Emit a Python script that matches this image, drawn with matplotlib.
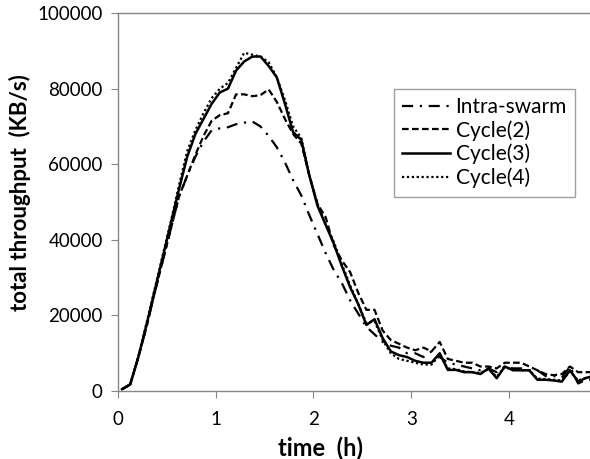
import numpy as np
import matplotlib.pyplot as plt

# time samples, every 5 minutes (h)
time_h = [(i + 0.5) / 12 for i in range(59)]

intra_swarm = [500, 1700, 9000, 17000, 26000, 34500, 43000, 51500, 57000, 62000,
               66000, 69000, 69500, 69800, 70600, 71000, 71300, 70000, 67500, 64500,
               60500, 55800, 51800, 46500, 41500, 36500, 32000, 28500, 24000, 20500,
               17000, 15000, 13000, 12000, 11500, 10000, 10000, 9000, 10500, 9000,
               7500, 7000, 6500, 6000, 5500, 6000, 5000, 6500, 6000, 6000,
               5500, 5500, 4000, 4000, 3500, 6500, 2000, 3000, 3000]
cycle2 = [500, 1700, 9000, 17000, 26000, 34500, 43000, 51500, 57000, 62500,
          67500, 71500, 73000, 73500, 78500, 78500, 78000, 78300, 79800, 76500,
          72000, 68000, 65500, 57000, 49500, 46000, 38500, 34500, 31500, 26000,
          21500, 21500, 16000, 13500, 12500, 11500, 10800, 11500, 10500, 13000,
          8500, 8000, 7500, 7500, 6500, 6500, 6000, 7500, 7500, 7500,
          6500, 5500, 4500, 4200, 4500, 6500, 5000, 5000, 5000]
cycle3 = [500, 1800, 9000, 17500, 26500, 35500, 44500, 53500, 62000, 68000,
          72000, 76000, 79000, 80000, 84800, 87200, 88500, 88500, 86000, 83000,
          76000, 68500, 66500, 57000, 49000, 44000, 39000, 33000, 27500, 23000,
          17500, 19000, 14000, 10500, 9500, 9000, 8000, 7500, 7500, 10000,
          5600, 5600, 5000, 5000, 4500, 6000, 3400, 6500, 5500, 5500,
          5500, 3000, 3000, 2800, 2500, 5500, 2500, 3500, 4000]
cycle4 = [500, 1800, 9200, 18000, 27000, 36000, 45000, 54500, 63500, 69000,
          73500, 77500, 80000, 81500, 85500, 89500, 89000, 88500, 87000, 83000,
          77000, 70000, 67000, 57000, 49500, 44000, 39500, 33500, 28000, 23000,
          18000, 18500, 13500, 10000, 8500, 8000, 7500, 7000, 7000, 9500,
          6000, 5800, 5200, 5000, 4800, 5800, 3800, 6300, 5800, 5500,
          5500, 3300, 3200, 3000, 2800, 5200, 2800, 3500, 4000]

plt.rcParams['font.family'] = ['Lato', 'DejaVu Sans']

fig = plt.figure(figsize=(5.9, 4.59), dpi=100)
ax = fig.add_axes([0.2, 0.148, 0.8, 0.8235])

ax.plot(time_h, intra_swarm, color='black', linewidth=1.6, linestyle=(0, (5, 3, 1, 3)), label='Intra-swarm')
ax.plot(time_h, cycle2, color='black', linewidth=1.6, linestyle=(0, (3, 1.5)), label='Cycle(2)')
ax.plot(time_h, cycle3, color='black', linewidth=1.8, linestyle='-', label='Cycle(3)')
ax.plot(time_h, cycle4, color='black', linewidth=1.6, linestyle=(0, (1, 1.2)), label='Cycle(4)')

ax.set_xlim(0, 4.83)
ax.set_ylim(0, 100000)
ax.set_xticks([0, 1, 2, 3, 4])
ax.set_yticks([0, 20000, 40000, 60000, 80000, 100000])

for s in ['left', 'bottom', 'top']:
    ax.spines[s].set_color('#868686')
    ax.spines[s].set_linewidth(1)
ax.spines['right'].set_visible(False)
ax.tick_params(axis='both', direction='out', length=5, color='#868686', labelsize=13.5)
ax.tick_params(axis='y', pad=6)
ax.tick_params(axis='x', pad=9)

ax.set_xlabel('time  (h)', fontsize=17, fontweight='bold')
ax.set_ylabel('total throughput  (KB/s)', fontsize=16, fontweight='bold')
ax.xaxis.set_label_coords(0.428, -0.12)
ax.yaxis.set_label_coords(-0.185, 0.526)

leg = ax.legend(loc='upper left', bbox_to_anchor=(0.585, 0.8), borderaxespad=0, fontsize=15,
                frameon=True, fancybox=False, edgecolor='#868686', handlelength=2.3,
                handletextpad=0.25, labelspacing=0.15, borderpad=0.4)
leg.get_frame().set_linewidth(1)

fig.savefig('out.png', dpi=100)
